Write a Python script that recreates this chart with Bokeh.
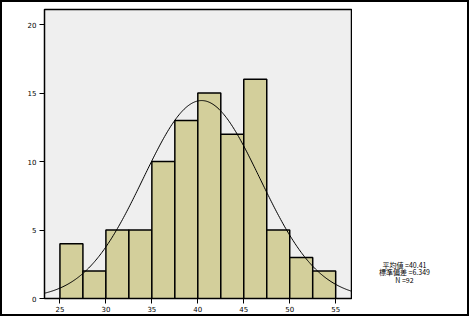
import numpy as np
from bokeh.plotting import figure
from bokeh.layouts import row
from bokeh.models import Range1d, FixedTicker
from bokeh.core.properties import value
from bokeh.embed import file_html
from bokeh.resources import INLINE

bin_left = [25.0, 27.5, 30.0, 32.5, 35.0, 37.5, 40.0, 42.5, 45.0, 47.5, 50.0, 52.5]
bin_width = 2.5
counts = [4, 2, 5, 5, 10, 13, 15, 12, 16, 5, 3, 2]
mean_val = 40.41
std_val = 6.349
n_val = 92
x_ticks = [25, 30, 35, 40, 45, 50, 55]
y_ticks = [0, 5, 10, 15, 20]
stats_lines = ["平均値 =40.41", "標準偏差 =6.349", "N =92"]

p = figure(width=350, height=312, output_backend="svg", toolbar_location=None,
           x_range=Range1d(23.32, 56.72), y_range=Range1d(0, 21.1),
           min_border_left=42, min_border_right=1, min_border_top=7, min_border_bottom=16)
p.background_fill_color = "#EFEFEF"
p.border_fill_color = "white"
p.outline_line_color = "black"
p.outline_line_width = 1.5
p.grid.visible = False

rights = [l + bin_width for l in bin_left]
p.quad(left=bin_left, right=rights, bottom=0, top=counts,
       fill_color="#D3CF9B", line_color="black", line_width=1.5)

xs = np.linspace(23.32, 56.72, 300)
ys = n_val * bin_width / (std_val * np.sqrt(2 * np.pi)) * np.exp(-0.5 * ((xs - mean_val) / std_val) ** 2)
p.line(xs, ys, line_color="black", line_width=1)

for ax in (p.xaxis[0], p.yaxis[0]):
    ax.axis_line_color = "black"
    ax.major_tick_line_color = "black"
    ax.major_tick_out = 5
    ax.major_tick_in = 0
    ax.minor_tick_line_color = None
    ax.major_label_text_font_size = "7px"
    ax.major_label_text_font = "DejaVu Sans"
    ax.major_label_text_color = "black"
p.xaxis.ticker = FixedTicker(ticks=x_ticks)
p.yaxis.ticker = FixedTicker(ticks=y_ticks)
p.xaxis.major_label_standoff = 2
p.yaxis.major_label_standoff = 3

p2 = figure(width=115, height=312, output_backend="svg", toolbar_location=None,
            x_range=Range1d(0, 115), y_range=Range1d(0, 312),
            min_border=0, min_border_left=0, min_border_right=0,
            min_border_top=0, min_border_bottom=0)
p2.axis.visible = False
p2.grid.visible = False
p2.outline_line_color = None
p2.background_fill_color = "white"
p2.border_fill_color = "white"
p2.text(x=[52, 52, 52], y=[36, 28.5, 20.5], text=stats_lines,
        text_align="center", text_baseline="middle", text_font_size="7px",
        text_font=value("Noto Sans CJK JP"), text_color="black")

layout = row(p, p2, spacing=0)
layout.styles = {"border": "2px solid black", "width": "469px", "height": "316px",
                 "box-sizing": "border-box"}

open("out.html", "w").write(file_html(layout, INLINE))
